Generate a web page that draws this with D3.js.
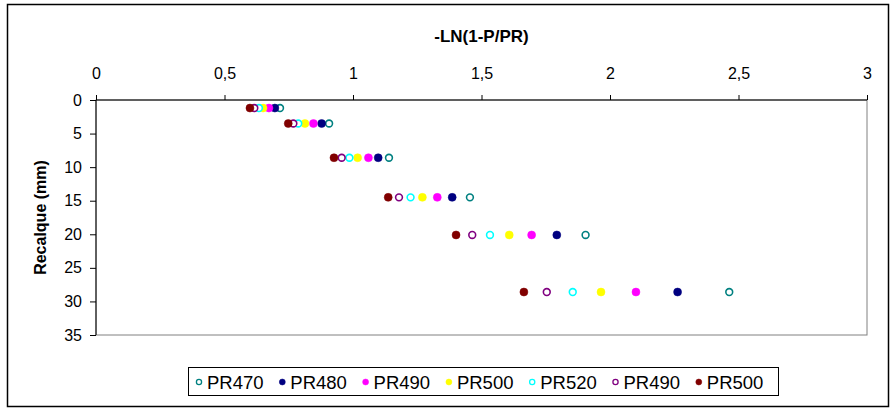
<!DOCTYPE html>
<html><head><meta charset="utf-8">
<script src="https://cdn.jsdelivr.net/npm/d3@7"></script>
<style>body{margin:0;background:#fff}svg{display:block}text{font-family:Arial,"Liberation Sans",sans-serif}</style>
</head><body><div id="chart"></div>
<script>
const depth = [1.2, 3.5, 8.6, 14.5, 20.1, 28.6];
const seriesNames = ["PR470","PR480","PR490","PR500","PR520","PR490","PR500"];
const pr470 = [0.716, 0.907, 1.140, 1.455, 1.905, 2.464];
const pr480 = [0.696, 0.878, 1.098, 1.386, 1.793, 2.263];
const pr490 = [0.673, 0.846, 1.060, 1.328, 1.695, 2.101];
const pr500 = [0.650, 0.813, 1.018, 1.270, 1.608, 1.965];
const pr520 = [0.634, 0.787, 0.986, 1.224, 1.533, 1.855];
const pr490b = [0.616, 0.768, 0.956, 1.179, 1.464, 1.754];
const pr500b = [0.599, 0.748, 0.926, 1.137, 1.401, 1.665];
const xTicks = [0, 0.5, 1, 1.5, 2, 2.5, 3];
const yTicks = [0, 5, 10, 15, 20, 25, 30, 35];

const styles = [
  {c:"#008080", open:true},
  {c:"#000080", open:false},
  {c:"#FF00FF", open:false},
  {c:"#FFFF00", open:false},
  {c:"#00FFFF", open:true},
  {c:"#800080", open:true},
  {c:"#800000", open:false}
];
const allVals = [pr470, pr480, pr490, pr500, pr520, pr490b, pr500b];
const series = seriesNames.map((n,i)=>({name:n, style:styles[i], pts: allVals[i].map((v,j)=>({x:v,y:depth[j]}))}));

const W=891,H=408;
const svg=d3.select("#chart").append("svg").attr("width",W).attr("height",H);
svg.append("rect").attr("x",7.5).attr("y",4.5).attr("width",881).attr("height",402).attr("fill","#fff").attr("stroke","#000").attr("stroke-width",1.5);

const L=96,R=867,T=100,B=335;
const x=d3.scaleLinear().domain([0,3]).range([L,R]);
const y=d3.scaleLinear().domain([0,35]).range([T,B]);

svg.append("rect").attr("x",L).attr("y",T).attr("width",R-L).attr("height",B-T).attr("fill","none").attr("stroke","#808080").attr("stroke-width",1);

const fmt = d=>String(d).replace(".",",");
const xa=svg.append("g").attr("transform",`translate(0,${T})`).call(d3.axisTop(x).tickValues(xTicks).tickFormat(fmt).tickSize(5).tickPadding(16));
const ya=svg.append("g").attr("transform",`translate(${L},0)`).call(d3.axisLeft(y).tickValues(yTicks).tickFormat(fmt).tickSize(6).tickPadding(8));
[xa,ya].forEach(a=>{a.select(".domain").attr("stroke","#000");a.selectAll(".tick line").attr("stroke","#000");a.selectAll("text").attr("font-size",16).attr("fill","#000").attr("font-family","Arial, 'Liberation Sans', sans-serif");});
xa.select(".domain").attr("d",`M${L},0H${R}`);
ya.select(".domain").attr("d",`M0,${T}V${B}`);

svg.append("text").attr("x",(L+R)/2).attr("y",42).attr("text-anchor","middle").attr("font-weight","bold").attr("font-size",17).text("-LN(1-P/PR)");
svg.append("text").attr("transform",`translate(46,${(T+B)/2}) rotate(-90)`).attr("text-anchor","middle").attr("font-weight","bold").attr("font-size",16).text("Recalque (mm)");

series.forEach(s=>{
  svg.append("g").selectAll("circle").data(s.pts).join("circle")
    .attr("cx",d=>x(d.x)).attr("cy",d=>y(d.y)).attr("r",s.style.open?3.4:4)
    .attr("fill",s.style.open?"#fff":s.style.c)
    .attr("stroke",s.style.c).attr("stroke-width",s.style.open?1.6:0.5);
});

// legend
svg.append("rect").attr("x",188.5).attr("y",367.5).attr("width",590).attr("height",28).attr("fill","#fff").attr("stroke","#000").attr("stroke-width",1);
const lg=svg.append("g");
series.forEach((s,i)=>{
  const cx=199+i*83.3, cy=382;
  lg.append("circle").attr("cx",cx).attr("cy",cy).attr("r",s.style.open?2.6:3)
    .attr("fill",s.style.open?"#fff":s.style.c).attr("stroke",s.style.c).attr("stroke-width",s.style.open?1.3:0.5);
  lg.append("text").attr("x",cx+8).attr("y",cy+6.5).attr("font-size",18.5).attr("fill","#000").text(s.name);
});
</script></body></html>
